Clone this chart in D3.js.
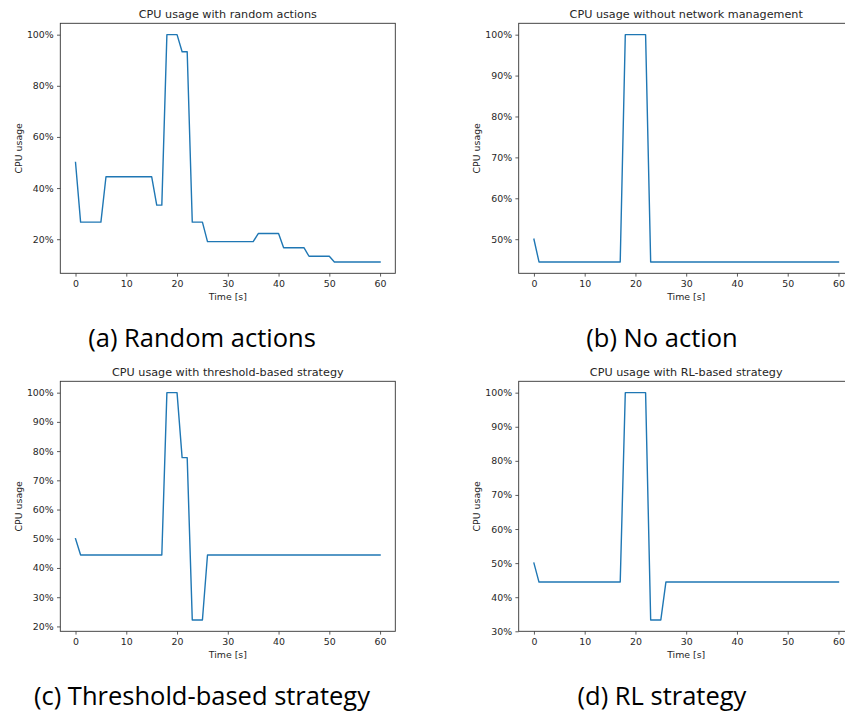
<!DOCTYPE html>
<html>
<head>
<meta charset="utf-8">
<script src="https://cdn.jsdelivr.net/npm/d3@7"></script>
<style>
  html, body { margin: 0; padding: 0; background: #fff; }
  svg { display: block; }
</style>
</head>
<body>
<svg id="fig" width="845" height="713"></svg>
<script>
// Sampling instants, seconds
const timeSeconds = [
  0, 1, 2, 3, 4, 5, 6, 7, 8, 9, 10, 11, 12, 13, 14, 15, 16, 17, 18, 19,
  20, 21, 22, 23, 24, 25, 26, 27, 28, 29, 30, 31, 32, 33, 34, 35, 36, 37, 38, 39,
  40, 41, 42, 43, 44, 45, 46, 47, 48, 49, 50, 51, 52, 53, 54, 55, 56, 57, 58, 59, 60
];

// CPU usage (fraction) per strategy, one value per second
const cpuRandom = [
  0.5,
  0.2667, 0.2667, 0.2667, 0.2667, 0.2667,
  0.4444, 0.4444, 0.4444, 0.4444, 0.4444, 0.4444, 0.4444, 0.4444, 0.4444, 0.4444,
  0.3333, 0.3333,
  1.0, 1.0, 1.0,
  0.9333, 0.9333,
  0.2667, 0.2667, 0.2667,
  0.1905, 0.1905, 0.1905, 0.1905, 0.1905, 0.1905, 0.1905, 0.1905, 0.1905, 0.1905,
  0.2222, 0.2222, 0.2222, 0.2222, 0.2222,
  0.1667, 0.1667, 0.1667, 0.1667, 0.1667,
  0.1333, 0.1333, 0.1333, 0.1333, 0.1333,
  0.1111, 0.1111, 0.1111, 0.1111, 0.1111, 0.1111, 0.1111, 0.1111, 0.1111, 0.1111
];

const cpuNoAction = [
  0.5,
  0.4444, 0.4444, 0.4444, 0.4444, 0.4444, 0.4444, 0.4444, 0.4444, 0.4444, 0.4444,
  0.4444, 0.4444, 0.4444, 0.4444, 0.4444, 0.4444, 0.4444,
  1.0, 1.0, 1.0, 1.0, 1.0,
  0.4444, 0.4444, 0.4444, 0.4444, 0.4444, 0.4444, 0.4444, 0.4444, 0.4444, 0.4444,
  0.4444, 0.4444, 0.4444, 0.4444, 0.4444, 0.4444, 0.4444, 0.4444, 0.4444, 0.4444,
  0.4444, 0.4444, 0.4444, 0.4444, 0.4444, 0.4444, 0.4444, 0.4444, 0.4444, 0.4444,
  0.4444, 0.4444, 0.4444, 0.4444, 0.4444, 0.4444, 0.4444, 0.4444
];

const cpuThreshold = [
  0.5,
  0.4444, 0.4444, 0.4444, 0.4444, 0.4444, 0.4444, 0.4444, 0.4444, 0.4444, 0.4444,
  0.4444, 0.4444, 0.4444, 0.4444, 0.4444, 0.4444, 0.4444,
  1.0, 1.0, 1.0,
  0.7778, 0.7778,
  0.2222, 0.2222, 0.2222,
  0.4444, 0.4444, 0.4444, 0.4444, 0.4444, 0.4444, 0.4444, 0.4444, 0.4444, 0.4444,
  0.4444, 0.4444, 0.4444, 0.4444, 0.4444, 0.4444, 0.4444, 0.4444, 0.4444, 0.4444,
  0.4444, 0.4444, 0.4444, 0.4444, 0.4444, 0.4444, 0.4444, 0.4444, 0.4444, 0.4444,
  0.4444, 0.4444, 0.4444, 0.4444, 0.4444
];

const cpuRL = [
  0.5,
  0.4444, 0.4444, 0.4444, 0.4444, 0.4444, 0.4444, 0.4444, 0.4444, 0.4444, 0.4444,
  0.4444, 0.4444, 0.4444, 0.4444, 0.4444, 0.4444, 0.4444,
  1.0, 1.0, 1.0, 1.0, 1.0,
  0.3333, 0.3333, 0.3333,
  0.4444, 0.4444, 0.4444, 0.4444, 0.4444, 0.4444, 0.4444, 0.4444, 0.4444, 0.4444,
  0.4444, 0.4444, 0.4444, 0.4444, 0.4444, 0.4444, 0.4444, 0.4444, 0.4444, 0.4444,
  0.4444, 0.4444, 0.4444, 0.4444, 0.4444, 0.4444, 0.4444, 0.4444, 0.4444, 0.4444,
  0.4444, 0.4444, 0.4444, 0.4444, 0.4444
];

// Tick labels
const xTicks = [0, 10, 20, 30, 40, 50, 60];
const yTicksRandom = [0.2, 0.4, 0.6, 0.8, 1.0];
const yTicksNoAction = [0.5, 0.6, 0.7, 0.8, 0.9, 1.0];
const yTicksThreshold = [0.2, 0.3, 0.4, 0.5, 0.6, 0.7, 0.8, 0.9, 1.0];
const yTicksRL = [0.3, 0.4, 0.5, 0.6, 0.7, 0.8, 0.9, 1.0];

const titles = [
  "CPU usage with random actions",
  "CPU usage without network management",
  "CPU usage with threshold-based strategy",
  "CPU usage with RL-based strategy"
];
const captions = [
  "(a) Random actions",
  "(b) No action",
  "(c) Threshold-based strategy",
  "(d) RL strategy"
];
const xLabel = "Time [s]";
const yLabel = "CPU usage";

// ---------------------------------------------------------------
const panels = [
  { values: cpuRandom,    yTicks: yTicksRandom,    col: 0, row: 0 },
  { values: cpuNoAction,  yTicks: yTicksNoAction,  col: 1, row: 0 },
  { values: cpuThreshold, yTicks: yTicksThreshold, col: 0, row: 1 },
  { values: cpuRL,        yTicks: yTicksRL,        col: 1, row: 1 }
];

const svg = d3.select("#fig");
const axW = 335, axH = 250;
const colX = [60.3, 518.7];
const rowY = [23.3, 381.3];
const captionX = [202, 662];
const captionBaseline = [347, 705];
const tickFont = 9.4;
const lineColor = "#1f77b4";
const textColor = "#262626";

panels.forEach((p, i) => {
  const x0 = colX[p.col], y0 = rowY[p.row];
  const g = svg.append("g").attr("transform", `translate(${x0},${y0})`);

  // matplotlib-style 5% margins around the data range
  const xMin = d3.min(timeSeconds), xMax = d3.max(timeSeconds);
  const xPad = (xMax - xMin) * 0.05;
  const yMin = d3.min(p.values), yMax = d3.max(p.values);
  const yPad = (yMax - yMin) * 0.05;

  const x = d3.scaleLinear().domain([xMin - xPad, xMax + xPad]).range([0, axW]);
  const y = d3.scaleLinear().domain([yMin - yPad, yMax + yPad]).range([axH, 0]);

  // series line
  const line = d3.line()
    .x((d, k) => x(timeSeconds[k]))
    .y(d => y(d));
  g.append("path")
    .datum(p.values)
    .attr("fill", "none")
    .attr("stroke", lineColor)
    .attr("stroke-width", 1.4)
    .attr("stroke-linejoin", "round")
    .attr("stroke-linecap", "square")
    .attr("d", line);

  // axes
  const xAxis = d3.axisBottom(x).tickValues(xTicks).tickSize(3.3).tickPadding(3.3)
    .tickFormat(d3.format("d"));
  const yAxis = d3.axisLeft(y).tickValues(p.yTicks).tickSize(3.3).tickPadding(3.3)
    .tickFormat(d3.format(".0%"));

  const gx = g.append("g").attr("transform", `translate(0,${axH})`).call(xAxis);
  const gy = g.append("g").call(yAxis);
  [gx, gy].forEach(a => {
    a.select(".domain").remove();
    a.selectAll(".tick line").attr("stroke", "#333").attr("stroke-width", 0.8);
    a.selectAll(".tick text")
      .attr("fill", textColor)
      .style("font-family", "'DejaVu Sans', sans-serif")
      .style("font-size", tickFont + "px");
  });

  // frame
  g.append("rect")
    .attr("x", 0).attr("y", 0).attr("width", axW).attr("height", axH)
    .attr("fill", "none").attr("stroke", "#333").attr("stroke-width", 0.9);

  // title
  g.append("text")
    .attr("x", axW / 2).attr("y", -5.6)
    .attr("text-anchor", "middle")
    .attr("fill", textColor)
    .style("font-family", "'DejaVu Sans', sans-serif")
    .style("font-size", "11.2px")
    .text(titles[i]);

  // axis labels
  g.append("text")
    .attr("x", axW / 2).attr("y", axH + 26.5)
    .attr("text-anchor", "middle")
    .attr("fill", textColor)
    .style("font-family", "'DejaVu Sans', sans-serif")
    .style("font-size", tickFont + "px")
    .text(xLabel);

  g.append("text")
    .attr("transform", `translate(-38.7,${axH / 2}) rotate(-90)`)
    .attr("text-anchor", "middle")
    .attr("fill", textColor)
    .style("font-family", "'DejaVu Sans', sans-serif")
    .style("font-size", tickFont + "px")
    .text(yLabel);

  // subfigure caption
  svg.append("text")
    .attr("x", captionX[p.col]).attr("y", captionBaseline[p.row])
    .attr("text-anchor", "middle")
    .attr("fill", "#000")
    .style("font-family", "'Open Sans', 'Noto Sans', sans-serif")
    .style("font-size", "25.5px")
    .text(captions[i]);
});
</script>
</body>
</html>
